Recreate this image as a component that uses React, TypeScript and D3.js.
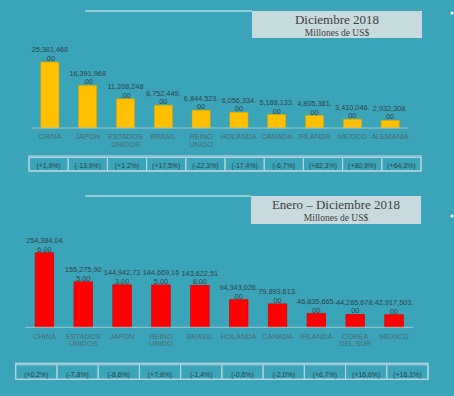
import React from 'react'
import * as d3 from 'd3'

// Diciembre 2018
const topCountries = ['CHINA', 'JAPON', 'ESTADOS UNIDOS', 'BRASIL', 'REINO UNIDO', 'HOLANDA', 'CANADA', 'IRLANDA', 'MEXICO', 'ALEMANIA']
const topValues = [25381468, 16391968, 11208248, 8752449, 6844523, 6056334, 5188133, 4805381, 3410046, 2932308]
const topChanges = ['(+1,9%)', '(-13,9%)', '(+1,2%)', '(+17,5%)', '(-22,3%)', '(-17,4%)', '(-6,7%)', '(+82,3%)', '(+80,9%)', '(+64,3%)']

// Enero - Diciembre 2018
const yearCountries = ['CHINA', 'ESTADOS UNIDOS', 'JAPON', 'REINO UNIDO', 'BRASIL', 'HOLANDA', 'CANADA', 'IRLANDA', 'COREA DEL SUR', 'MEXICO']
const yearValues = [254384046, 155275905, 144942733, 144669165, 143622518, 94343026, 79893613, 46835665, 44285678, 42917503]
const yearChanges = ['(+0,2%)', '(-7,8%)', '(-8,6%)', '(+7,8%)', '(-1,4%)', '(-0,6%)', '(-2,0%)', '(+6,7%)', '(+16,6%)', '(+16,1%)']

const W = 454
const H = 396
const BG = '#3aa5b8'
const SANS = '"Liberation Sans", Arial, sans-serif'
const SERIF = '"Liberation Serif", "Times New Roman", serif'
const fmt = d3.format(',.2f')

// wrap the value label the way the narrow data-label box does, char by char
function wrapValue(v: number, maxEm: number) {
  const s = fmt(v)
  let w = 0
  let i = 0
  for (; i < s.length; i++) {
    const cw = /[0-9]/.test(s[i]) ? 0.556 : 0.278
    if (w + cw > maxEm) break
    w += cw
  }
  return [s.slice(0, i), s.slice(i)]
}

function splitName(name: string) {
  const k = name.indexOf(' ')
  return k < 0 ? [name] : [name.slice(0, k), name.slice(k + 1)]
}

type PanelProps = {
  countries: string[]
  values: number[]
  changes: string[]
  color: string
  stroke: string
  xRange: [number, number]
  baseY: number
  yMax: number
  yPx: number
  wrapEm: number
  title: string
  titleBox: { x0: number; x1: number; y0: number; y1: number }
  dotY: number
  table: { x0: number; x1: number; y0: number; y1: number }
}

function Panel(p: PanelProps) {
  const x = d3.scaleBand<string>().domain(p.countries).range(p.xRange).paddingInner(0.52).paddingOuter(0.26)
  const y = d3.scaleLinear().domain([0, p.yMax]).range([p.baseY, p.baseY - p.yPx])
  const tx = d3.scaleBand<string>().domain(p.changes.map((_, i) => String(i))).range([p.table.x0, p.table.x1])
  const tb = p.titleBox
  const tcx = (tb.x0 + tb.x1) / 2
  return (
    <g>
      <line x1={85} x2={tb.x0} y1={tb.y0} y2={tb.y0} stroke="#e8f4f6" strokeWidth={1} />
      <rect x={tb.x0} y={tb.y0} width={tb.x1 - tb.x0} height={tb.y1 - tb.y0} fill="#c7dbdf" />
      <text x={tcx} y={tb.y0 + 13} textAnchor="middle" fontFamily={SERIF} fontSize={13} fill="#3d3d3d">{p.title}</text>
      <text x={tcx} y={tb.y0 + 25} textAnchor="middle" fontFamily={SERIF} fontSize={9.5} fill="#3d3d3d">Millones de US$</text>
      <circle cx={452} cy={p.dotY} r={1.5} fill="#f4fafb" />

      {p.countries.map((c, i) => {
        const bx = x(c)!
        const top = y(p.values[i])
        const cx = bx + x.bandwidth() / 2
        const lines = wrapValue(p.values[i], p.wrapEm)
        return (
          <g key={c}>
            <rect x={bx} y={top} width={x.bandwidth()} height={p.baseY - top} fill={p.color} stroke={p.stroke} strokeWidth={0.6} />
            {lines.map((l, j) => (
              <text key={j} x={cx} y={top - 1 - (lines.length - 1 - j) * 8.6} textAnchor="middle"
                fontFamily={SANS} fontSize={7.3} fill="#2f4348">{l}</text>
            ))}
            {splitName(c).map((l, j) => (
              <text key={'n' + j} x={cx} y={p.baseY + 11.3 + j * 7.8} textAnchor="middle"
                fontFamily={SANS} fontSize={7.4} fill="#4c6a71">{l}</text>
            ))}
          </g>
        )
      })}
      <line x1={p.xRange[0]} x2={p.xRange[1]} y1={p.baseY} y2={p.baseY} stroke="#9fc6ce" strokeWidth={1} />

      <rect x={p.table.x0} y={p.table.y0} width={p.table.x1 - p.table.x0} height={p.table.y1 - p.table.y0}
        fill="none" stroke="#b5d5db" strokeWidth={1.2} />
      {p.changes.map((t, i) => {
        const cx0 = tx(String(i))!
        return (
          <g key={i}>
            <rect x={cx0} y={p.table.y0 + 1.5} width={tx.bandwidth()} height={p.table.y1 - p.table.y0 - 1.5}
              fill="none" stroke="#b5d5db" strokeWidth={1} />
            <text x={cx0 + tx.bandwidth() / 2} y={p.table.y1 - 2.6} textAnchor="middle"
              fontFamily={SANS} fontSize={6.9} fill="#2e3e42">{t}</text>
          </g>
        )
      })}
    </g>
  )
}

export default function App() {
  return (
    <svg width={W} height={H} style={{ position: 'fixed', left: 0, top: 0 }}>
      <rect width={W} height={H} fill={BG} />
      <Panel countries={topCountries} values={topValues} changes={topChanges}
        color="#ffc000" stroke="#d9a200" xRange={[31, 409]} baseY={128} yMax={30e6} yPx={78} wrapEm={5.1}
        title="Diciembre 2018" titleBox={{ x0: 252, x1: 422, y0: 11, y1: 38 }} dotY={13}
        table={{ x0: 29, x1: 421, y0: 156, y1: 171 }} />
      <Panel countries={yearCountries} values={yearValues} changes={yearChanges}
        color="#ff0000" stroke="#d00000" xRange={[25, 413.5]} baseY={327.3} yMax={300e6} yPx={87.9} wrapEm={5.4}
        title="Enero – Diciembre 2018" titleBox={{ x0: 251, x1: 421, y0: 196, y1: 224 }} dotY={216}
        table={{ x0: 15.7, x1: 428, y0: 363.3, y1: 379.3 }} />
    </svg>
  )
}
